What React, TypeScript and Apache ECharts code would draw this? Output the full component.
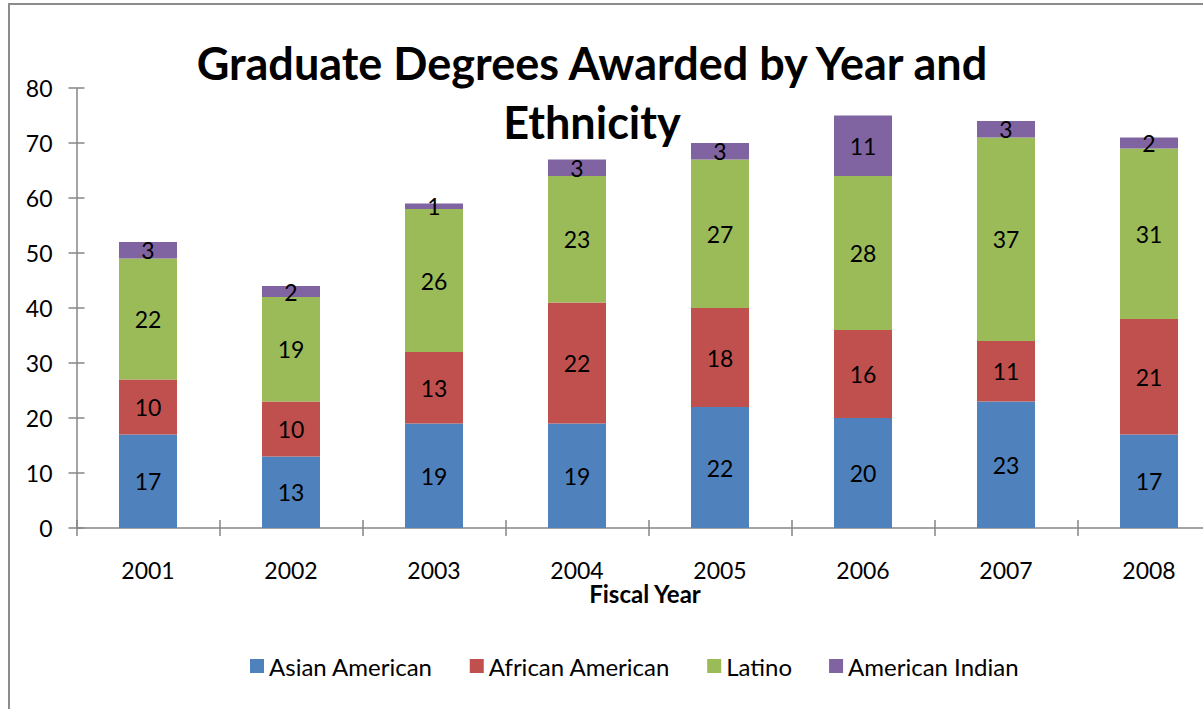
import React, { useEffect, useRef } from "react";
import * as echarts from "echarts";

const years = ["2001", "2002", "2003", "2004", "2005", "2006", "2007", "2008"];
const asianAmerican = [17, 13, 19, 19, 22, 20, 23, 17];
const africanAmerican = [10, 10, 13, 22, 18, 16, 11, 21];
const latino = [22, 19, 26, 23, 27, 28, 37, 31];
const americanIndian = [3, 2, 1, 3, 3, 11, 3, 2];
const xAxisTitle = "Fiscal Year";

const FONT = "Lato, 'Open Sans', sans-serif";

export default function App() {
  const ref = useRef<HTMLDivElement>(null);
  useEffect(() => {
    if (!ref.current) return;
    const chart = echarts.init(ref.current, undefined, { renderer: "svg" });
    const mkSeries = (name: string, data: number[], color: string) => ({
      name,
      type: "bar",
      stack: "total",
      xAxisIndex: 0,
      yAxisIndex: 0,
      barWidth: 58,
      data,
      itemStyle: { color },
      label: {
        show: true,
        position: "inside",
        color: "#000",
        fontSize: 23,
        fontFamily: FONT,
      },
    });
    chart.setOption({
      animation: false,
      backgroundColor: "#fff",
      title: {
        text: "Graduate Degrees Awarded by Year and\nEthnicity",
        left: 587,
        top: 28,
        textAlign: "center",
        textStyle: {
          fontFamily: FONT,
          fontSize: 45,
          fontWeight: "bold",
          color: "#000",
          lineHeight: 59,
        },
      },
      graphic: [
        {
          type: "rect",
          shape: { x: 9, y: 4, width: 1400, height: 900 },
          style: { fill: "none", stroke: "#8c8c8c", lineWidth: 2 },
          silent: true,
          z: -1,
        },
        {
          type: "text",
          x: 645,
          y: 593,
          style: {
            text: xAxisTitle,
            fontFamily: FONT,
            fontSize: 24,
            fontWeight: "bold",
            fill: "#000",
            align: "center",
            verticalAlign: "middle",
          },
        },
      ],
      legend: {
        left: 245,
        top: 649,
        itemWidth: 14,
        itemHeight: 14,
        itemGap: 37,
        icon: "rect",
        textStyle: { fontFamily: FONT, fontSize: 24, color: "#000" },
        data: ["Asian American", "African American", "Latino", "American Indian"],
      },
      grid: { left: 76.5, top: 88, width: 1144, height: 440, containLabel: false },
      xAxis: [
        {
          type: "category",
          data: years,
          position: "bottom",
          axisLine: { lineStyle: { color: "#868686", width: 1.5 } },
          axisTick: { show: true, length: 8, lineStyle: { color: "#868686", width: 1.5 } },
          axisLabel: { fontFamily: FONT, fontSize: 23, color: "#000", margin: 30 },
        },
        {
          type: "category",
          data: years,
          position: "bottom",
          offset: 0,
          axisLine: { show: false },
          axisTick: { show: true, inside: true, length: 8, lineStyle: { color: "#868686", width: 1.5 } },
          axisLabel: { show: false },
        },
      ],
      yAxis: [
        {
          type: "value",
          min: 0,
          max: 80,
          interval: 10,
          position: "left",
          axisLine: { show: true, lineStyle: { color: "#868686", width: 1.5 } },
          axisTick: { show: true, length: 8, lineStyle: { color: "#868686", width: 1.5 } },
          axisLabel: { fontFamily: FONT, fontSize: 23, color: "#000", margin: 24 },
          splitLine: { show: false },
        },
        {
          type: "value",
          min: 0,
          max: 80,
          interval: 10,
          position: "left",
          offset: 0,
          axisLine: { show: false },
          axisTick: { show: true, inside: true, length: 8, lineStyle: { color: "#868686", width: 1.5 } },
          axisLabel: { show: false },
          splitLine: { show: false },
        },
      ],
      series: [
        mkSeries("Asian American", asianAmerican, "#4F81BD"),
        mkSeries("African American", africanAmerican, "#C0504D"),
        mkSeries("Latino", latino, "#9BBB59"),
        mkSeries("American Indian", americanIndian, "#8064A2"),
      ],
    });
    return () => chart.dispose();
  }, []);
  return (
    <div style={{ position: "absolute", left: 0, top: 0, width: 1203, height: 709, overflow: "hidden", background: "#fff" }}>
      <div ref={ref} style={{ width: 1260, height: 709 }} />
    </div>
  );
}
